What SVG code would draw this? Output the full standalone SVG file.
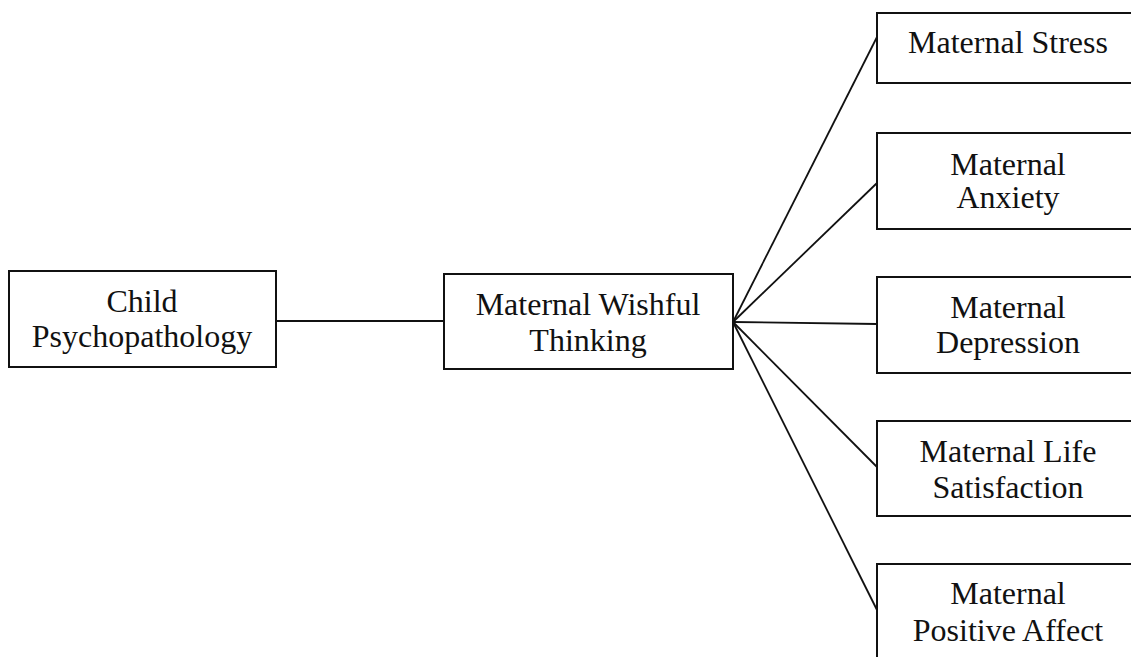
<svg xmlns="http://www.w3.org/2000/svg" width="1131" height="657" viewBox="0 0 1131 657">
<style>
rect{fill:#fff;stroke:#111;stroke-width:2}
text{font-family:"Liberation Serif","Times New Roman",serif;font-size:32px;fill:#111;text-anchor:middle}
.c line{stroke:#111;stroke-width:1.8}
</style>
<rect x="0" y="0" width="1131" height="657" style="stroke:none"/>
<g class="c" id="connectors">
<line x1="276" y1="321" x2="444" y2="321"/>
<line x1="733" y1="322" x2="877" y2="37"/>
<line x1="733" y1="322" x2="877" y2="183"/>
<line x1="733" y1="322" x2="877" y2="324"/>
<line x1="733" y1="322" x2="877" y2="467"/>
<line x1="733" y1="322" x2="877" y2="610"/>
</g>
<g id="child"><rect x="9" y="271" width="267" height="96"/><text x="142" y="312">Child</text><text x="142" y="347">Psychopathology</text></g>
<g id="wishful"><rect x="444" y="274" width="289" height="95"/><text x="588" y="315">Maternal Wishful</text><text x="588" y="351">Thinking</text></g>
<g id="stress"><rect x="877" y="13" width="262" height="70"/><text x="1008" y="53">Maternal Stress</text></g>
<g id="anxiety"><rect x="877" y="133" width="262" height="96"/><text x="1008" y="175">Maternal</text><text x="1008" y="208">Anxiety</text></g>
<g id="depression"><rect x="877" y="277" width="262" height="96"/><text x="1008" y="318">Maternal</text><text x="1008" y="353">Depression</text></g>
<g id="life"><rect x="877" y="421" width="262" height="95"/><text x="1008" y="462">Maternal Life</text><text x="1008" y="498">Satisfaction</text></g>
<g id="positive"><rect x="877" y="564" width="262" height="100"/><text x="1008" y="604">Maternal</text><text x="1008" y="641">Positive Affect</text></g>
</svg>
